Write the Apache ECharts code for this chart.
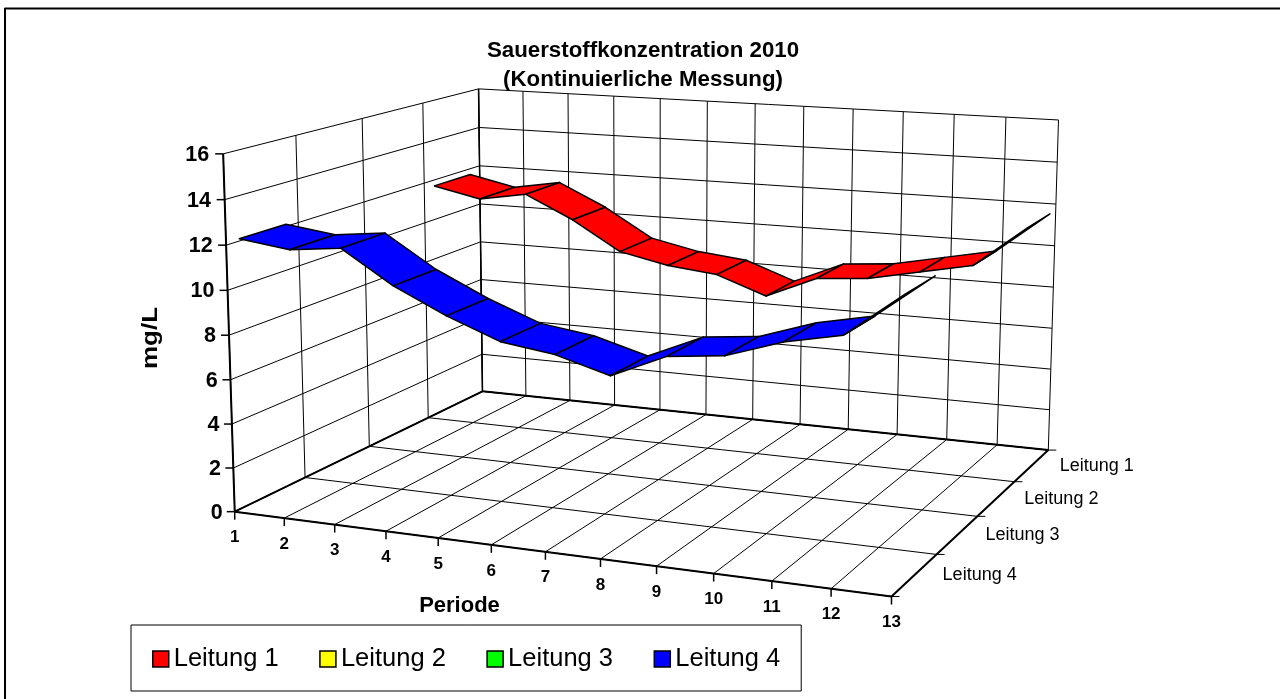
<!DOCTYPE html><html><head><meta charset="utf-8"><script src="https://cdn.jsdelivr.net/npm/echarts@6/dist/echarts.min.js"></script></head><body style="margin:0;background:#fff"><div id="c" style="width:1280px;height:699px"></div><script>
var periods=[1,2,3,4,5,6,7,8,9,10,11,12,13];
var valueTicks=[0,2,4,6,8,10,12,14,16];
var lines=['Leitung 1','Leitung 2','Leitung 3','Leitung 4'];
var colors=['#ff0000','#ffff00','#00ff00','#0000ff'];
var leitung1=[11.7,11.2,11.6,10.5,9.1,8.6,8.35,7.5,8.55,8.75,9.25,9.75,11.7];
var leitung2=[];
var leitung3=[];
var leitung4=[12.1,11.8,12.05,10.6,9.5,8.6,8.27,7.6,8.65,8.9,9.7,10.2,12.08];
var seriesValues=[leitung1,leitung2,leitung3,leitung4];
var P=[0.565579,0.338917,-0.017622,0.23474,0.023856,-0.046394,-0.36199,0.511664,-0.102269,0.189003,-0.027115];
var maxValue=16;
function project(period,depth,value){var u=(period-1)/12,w=value/maxValue,v=depth;var d=P[8]*u+P[9]*v+P[10]*w+1;return [1000*(P[0]*u+P[1]*v+P[2]*w+P[3])/d,1000*(P[4]*u+P[5]*v+P[6]*w+P[7])/d];}
var FONT='"Liberation Sans"';
var bandHalf=0.081;
function depthCentre(i){return 1-(i+0.5)/lines.length;}
function seg(api,a,b,w){var p=api.coord(a),q=api.coord(b);return {type:'line',shape:{x1:p[0],y1:p[1],x2:q[0],y2:q[1]},style:{stroke:'#000',lineWidth:w},silent:true};}
function txt(api,p,s,size,bold,align,vert,rot,sx){var c=api.coord(p);return {type:'text',x:c[0],y:c[1],rotation:rot||0,scaleX:sx||1,style:{text:s,fill:'#000',font:(bold?'bold ':'')+size+'px '+FONT,textAlign:align,textVerticalAlign:vert},silent:true};}
function add(p,dx,dy){return [p[0]+dx,p[1]+dy];}
function renderFrame(params,api){
  var c=[],i;
  c.push(seg(api,[4.5,8.5],[1280,8.5],2));c.push(seg(api,[5,8],[5,699],2));
  valueTicks.forEach(function(t){
    c.push(seg(api,project(1,0,t),project(1,1,t),1));
    c.push(seg(api,project(1,1,t),project(13,1,t),1));
    var p=project(1,0,t);
    c.push(seg(api,p,add(p,-8,0),1.5));
    c.push(txt(api,add(p,-12-2*t/maxValue,1),String(t),21.5,true,'right','middle'));
  });
  periods.forEach(function(per){
    c.push(seg(api,project(per,0,0),project(per,1,0),1));
    c.push(seg(api,project(per,1,0),project(per,1,maxValue),1));
    var p=project(per,0,0);
    c.push(seg(api,p,add(p,0,8),1.5));
    c.push(txt(api,add(p,0,26),String(per),17,true,'center','middle'));
  });
  for(i=0;i<=lines.length;i++){
    var z=i/lines.length;
    c.push(seg(api,project(1,z,0),project(13,z,0),1));
    c.push(seg(api,project(1,z,0),project(1,z,maxValue),1));
    var e=project(13,z,0);
    c.push(seg(api,e,add(e,8,0),1));
  }
  c.push(seg(api,project(1,0,0),project(1,0,maxValue),2));
  c.push(seg(api,project(1,1,0),project(1,1,maxValue),1.5));
  c.push(seg(api,project(1,0,0),project(13,0,0),2));
  c.push(seg(api,project(1,0,0),project(1,1,0),2));
  c.push(seg(api,project(13,0,0),project(13,1,0),2));
  c.push(seg(api,project(1,1,0),project(13,1,0),2));
  lines.forEach(function(n,k){
    var m=project(13,depthCentre(k),0);
    c.push(txt(api,add(m,28,0.5),n,18,false,'left','middle'));
  });
  c.push(txt(api,[459.5,606],'Periode',22,true,'center','middle'));
  c.push(txt(api,[151,338],'mg/L',22,true,'center','middle',Math.PI/2,1.18));
  return {type:'group',children:c};
}
function renderRibbon(k){return function(params,api){
  var i=params.dataIndex,vals=seriesValues[k];
  if(i>=vals.length-1)return null;
  var zc=depthCentre(k),a=periods[i],b=periods[i+1];
  var pts=[project(a,zc-bandHalf,api.value(1)),project(a,zc+bandHalf,api.value(1)),project(b,zc+bandHalf,api.value(2)),project(b,zc-bandHalf,api.value(2))].map(function(p){return api.coord(p);});
  return {type:'polygon',shape:{points:pts},style:{fill:colors[k],stroke:'#000',lineWidth:1.5,lineJoin:'round'}};
};}
var series=[{type:'custom',name:'frame',silent:true,clip:false,z:1,data:[[0]],renderItem:renderFrame,encode:{x:0}}];
lines.forEach(function(n,k){
  var d=seriesValues[k].map(function(v,i,arr){return [periods[i],v,i<arr.length-1?arr[i+1]:v];});
  series.push({type:'custom',name:n,silent:true,clip:false,z:2+k,itemStyle:{color:colors[k]},data:d,renderItem:renderRibbon(k),encode:{x:0,y:1}});
});
var chart=echarts.init(document.getElementById('c'),null,{renderer:'canvas'});
chart.setOption({
  animation:false,backgroundColor:'#fff',
  title:{text:'Sauerstoffkonzentration 2010\n(Kontinuierliche Messung)',left:638,top:31,textAlign:'center',textStyle:{fontFamily:FONT,fontWeight:'bold',fontSize:22.3,lineHeight:29,color:'#000'}},
  legend:{data:lines,left:131,top:625,padding:[21,21,19,21],itemGap:40.5,itemWidth:16,itemHeight:16,icon:'rect',selectedMode:false,borderColor:'#000',borderWidth:1,backgroundColor:'#fff',itemStyle:{borderColor:'#000',borderWidth:1.5},textStyle:{fontFamily:FONT,fontSize:25.5,color:'#000',padding:[3,0,0,0]}},
  grid:{left:0,right:0,top:0,bottom:0},
  xAxis:{type:'value',min:0,max:1280,show:false},
  yAxis:{type:'value',min:0,max:699,inverse:true,show:false},
  series:series
});
</script></body></html>
